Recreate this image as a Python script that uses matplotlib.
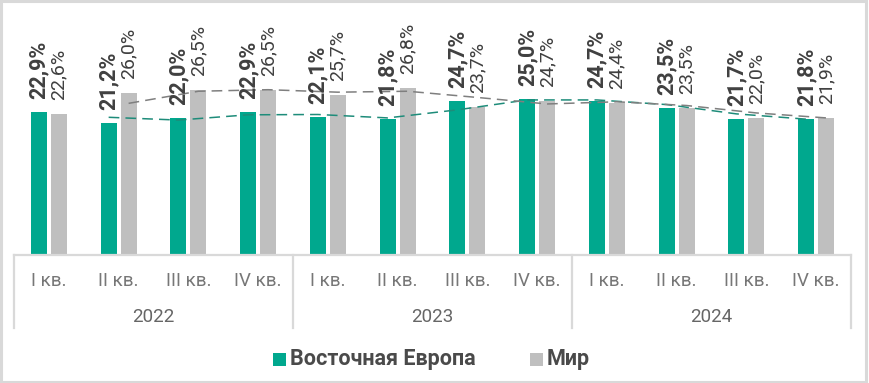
import numpy as np
import pandas as pd
import matplotlib
matplotlib.use("Agg")
import matplotlib.pyplot as plt
from matplotlib.patches import Rectangle

plt.rcParams['font.family'] = ['Roboto', 'DejaVu Sans']

quarters = ["I кв.", "II кв.", "III кв.", "IV кв."] * 3
years = ["2022", "2023", "2024"]
east_europe = [22.9, 21.2, 22.0, 22.9, 22.1, 21.8, 24.7, 25.0, 24.7, 23.5, 21.7, 21.8]
world = [22.6, 26.0, 26.5, 26.5, 25.7, 26.8, 23.7, 24.7, 24.4, 23.5, 22.0, 21.9]
series_names = ["Восточная Европа", "Мир"]

TEAL = "#00A88E"
GRAY = "#BFBFBF"
TXT = "#404040"
AXC = "#D9D9D9"

W, H = 869, 383
fig = plt.figure(figsize=(W / 100, H / 100), dpi=100)
fig.patch.set_facecolor("white")
fig.patches.append(Rectangle((0.001, 0.002), 0.996, 0.995, transform=fig.transFigure,
                             fill=False, edgecolor=AXC, linewidth=2.2))

left_px, right_px, base_px, top_px = 14, 851, 254, 10
ax = fig.add_axes([left_px / W, 1 - base_px / H, (right_px - left_px) / W, (base_px - top_px) / H])
ax.set_xlim(-0.5, 11.5)
ax.set_ylim(0, (base_px - top_px) / 6.2)
ax.axis("off")

x = np.arange(len(east_europe))
off, bw = 0.143, 0.229
ax.bar(x - off, east_europe, width=bw, color=TEAL)
ax.bar(x + off, world, width=bw, color=GRAY)

# 2-period moving average trendlines
ma_e = pd.Series(east_europe).rolling(2).mean()
ma_w = pd.Series(world).rolling(2).mean()
ax.plot(x[1:] - off, ma_e[1:], color="#1E8C7A", lw=1.1, dashes=(7, 4))
ax.plot(x[1:] + off, ma_w[1:], color="#7F7F7F", lw=1.1, dashes=(7, 4))

def fmt(v):
    return f"{v:.1f}%".replace(".", ",")

for xi, v in zip(x, east_europe):
    ax.annotate(fmt(v), (xi - off, v), xytext=(0, 13), textcoords="offset pixels",
                rotation=90, ha="center", va="bottom", fontsize=15.5,
                fontweight="bold", color=TXT)
for xi, v in zip(x, world):
    ax.annotate(fmt(v), (xi + off, v), xytext=(0, 14), textcoords="offset pixels",
                rotation=90, ha="center", va="bottom", fontsize=14,
                color=TXT)

# category axis
tr = ax.get_xaxis_transform()
y_line = -(255 - base_px) / (base_px - top_px)
y_bot = -(328 - base_px) / (base_px - top_px)
ax.plot([-0.5, 11.5], [y_line, y_line], color=AXC, lw=1.6, transform=tr, clip_on=False)
for xv in [-0.5, 3.5, 7.5, 11.5]:
    ax.plot([xv, xv], [y_line, y_bot], color=AXC, lw=1.6, transform=tr, clip_on=False)

y_q = -(281 - base_px) / (base_px - top_px)
y_y = -(317 - base_px) / (base_px - top_px)
for xi, q in zip(x, quarters):
    ax.text(xi, y_q, q, transform=tr, ha="center", va="center", fontsize=13.5,
            color="#777777")
for i, yr in enumerate(years):
    ax.text(4 * i + 1.5, y_y, yr, transform=tr, ha="center", va="center", fontsize=13.5,
            color="#666666")

# legend (manual placement)
ly = 359
colors = [TEAL, GRAY]
sq_x = [273, 530]
for sx, c, name in zip(sq_x, colors, series_names):
    fig.patches.append(Rectangle((sx / W, 1 - (ly + 6.5) / H), 13 / W, 13 / H,
                                 transform=fig.transFigure, facecolor=c, edgecolor="none"))
    fig.text((sx + 17) / W, 1 - ly / H, name, ha="left", va="center", fontsize=15.5,
             fontweight="bold", color="#4A4A4A")

fig.savefig("out.png", dpi=100, facecolor="white")
